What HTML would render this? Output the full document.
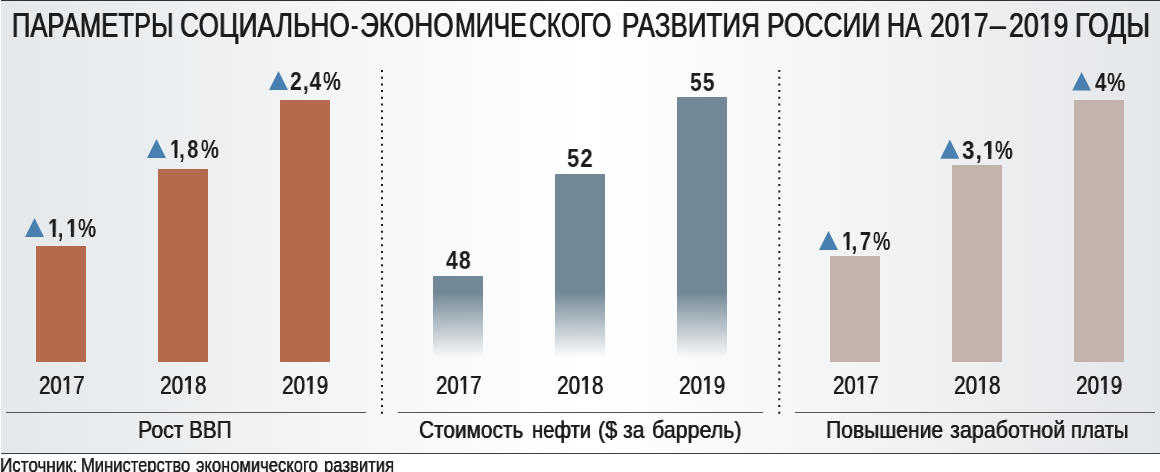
<!DOCTYPE html>
<html lang="ru"><head><meta charset="utf-8">
<style>
html,body{margin:0;padding:0;}
body{width:1160px;height:472px;position:relative;overflow:hidden;background:#fff;font-family:"Liberation Sans",sans-serif;color:#1c1c1c;}
#bg{position:absolute;left:1px;top:0;width:1159px;height:453px;background:linear-gradient(90deg,#e4e8eb 0%,#ffffff 50.5%,#e4e7ea 100%);}
#topline{position:absolute;left:1px;top:0;width:1159px;height:1px;background:#2c3033;}
#botline{position:absolute;left:1px;top:453px;width:1159px;height:1px;background:#3d4043;}

.t{position:absolute;white-space:nowrap;transform-origin:0 0;line-height:1;will-change:transform;font-family:"Liberation Sans",sans-serif;color:#1c1c1c;text-shadow:0.013em 0 0 #1c1c1c,-0.013em 0 0 #1c1c1c;}
.t b{font-weight:bold;letter-spacing:0.05em;text-shadow:none;}
.t i{font-style:normal;display:inline-block;position:relative;width:0.5562em;height:1em;vertical-align:top;}
.t i u{text-decoration:none;display:block;height:0.62em;overflow:hidden;}
.t i::after{content:"I";position:absolute;left:0.1567em;top:0;}
.t b i::after{left:0.1631em;}
.t q{quotes:none;text-shadow:0.004em 0 0 #1c1c1c,-0.004em 0 0 #1c1c1c;}
.t q::before,.t q::after{content:none;}
.t em{font-style:normal;margin:0 0.09em 0 -0.09em;}

.bar{position:absolute;width:50px;}
.o{background:#b5694d;}
.g{background:linear-gradient(to top,rgba(114,136,150,0) 4px,rgba(114,136,150,1) 70px);}
.p{background:#c2b3ad;}
.hl{position:absolute;height:1px;background:#555;top:412px;}
svg{position:absolute;left:0;top:0;}
</style></head><body>
<div id="bg"></div>
<div id="topline"></div>
<div id="botline"></div>
<div class="bar o" style="left:36px;top:246px;height:116px"></div><div class="bar o" style="left:158px;top:169px;height:193px"></div><div class="bar o" style="left:280px;top:100px;height:262px"></div><div class="bar g" style="left:433px;top:276px;height:86px"></div><div class="bar g" style="left:555px;top:174px;height:188px"></div><div class="bar g" style="left:677px;top:97px;height:265px"></div><div class="bar p" style="left:830px;top:256px;height:106px"></div><div class="bar p" style="left:952px;top:165px;height:197px"></div><div class="bar p" style="left:1074px;top:100px;height:262px"></div>
<svg width="1160" height="472" viewBox="0 0 1160 472">
<g fill="#4a80b0"><polygon points="25,237 34.5,218 44,237"/><polygon points="147,158 156.5,139 166,158"/><polygon points="269,90 278.5,71 288,90"/><polygon points="819,250 828.5,231 838,250"/><polygon points="940.3,158.7 949.8499999999999,139.6 959.4,158.7"/><polygon points="1072.2,90.6 1081.6,72 1091,90.6"/></g>
<g stroke="#1a1a1a" stroke-width="2" stroke-dasharray="2 4.7" fill="none">
<line x1="382" y1="70" x2="382" y2="414"/>
<line x1="779.3" y1="70" x2="779.3" y2="414"/>
</g>
</svg>
<div class="hl" style="left:6px;width:360px"></div>
<div class="hl" style="left:398px;width:365px"></div>
<div class="hl" style="left:795px;width:360px"></div>
<div class="t" style="left:11.52px;top:8px;font-size:34.5px;transform:scaleX(0.7418)">ПАРАМЕТРЫ</div>
<div class="t" style="left:179.74px;top:8px;font-size:34.5px;transform:scaleX(0.7648)">СОЦИАЛЬНО</div>
<div class="t" style="left:350.61px;top:8px;font-size:34.5px;transform:scaleX(0.6389)">-</div>
<div class="t" style="left:359.73px;top:8px;font-size:34.5px;transform:scaleX(0.7604)">ЭКОНО</div>
<div class="t" style="left:454.81px;top:8px;font-size:34.5px;transform:scaleX(0.7216)">МИЧЕ</div>
<div class="t" style="left:529.28px;top:8px;font-size:34.5px;transform:scaleX(0.715)">СКОГО</div>
<div class="t" style="left:622.24px;top:8px;font-size:34.5px;transform:scaleX(0.7542)">РАЗВИТИЯ</div>
<div class="t" style="left:767.22px;top:8px;font-size:34.5px;transform:scaleX(0.7639)">РОССИИ</div>
<div class="t" style="left:887.3px;top:8px;font-size:34.5px;transform:scaleX(0.7228)">НА</div>
<div class="t" style="left:930.24px;top:8px;font-size:34.5px;transform:scaleX(0.7635)">20<i><u>1</u></i>7</div>
<div class="t" style="left:990.0px;top:8px;font-size:34.5px;transform:scaleX(0.8125)">–</div>
<div class="t" style="left:1008.73px;top:8px;font-size:34.5px;transform:scaleX(0.7733)">20<i><u>1</u></i>9</div>
<div class="t" style="left:1075.2px;top:8px;font-size:34.5px;transform:scaleX(0.7745)">ГОДЫ</div>
<div class="t" style="left:47.85px;top:216px;font-size:25px;transform:scaleX(0.8233)"><b><i><u>1</u></i><em>,</em><i><u>1</u></i></b></div>
<div class="t" style="left:78.49px;top:216px;font-size:25px;transform:scaleX(0.8095)">%</div>
<div class="t" style="left:170.32px;top:137px;font-size:25px;transform:scaleX(0.7879)"><b><i><u>1</u></i><em>,</em>8</b></div>
<div class="t" style="left:200.7px;top:137px;font-size:25px;transform:scaleX(0.7952)">%</div>
<div class="t" style="left:289.86px;top:69px;font-size:25px;transform:scaleX(0.8417)"><b>2,4</b></div>
<div class="t" style="left:322.6px;top:69px;font-size:25px;transform:scaleX(0.7952)">%</div>
<div class="t" style="left:445.7px;top:248px;font-size:25px;transform:scaleX(0.8464)"><b>48</b></div>
<div class="t" style="left:566.92px;top:146px;font-size:25px;transform:scaleX(0.8778)"><b>52</b></div>
<div class="t" style="left:689.86px;top:70px;font-size:25px;transform:scaleX(0.8407)"><b>55</b></div>
<div class="t" style="left:841.78px;top:229px;font-size:25px;transform:scaleX(0.8091)"><b><i><u>1</u></i><em>,</em>7</b></div>
<div class="t" style="left:872.92px;top:229px;font-size:25px;transform:scaleX(0.781)">%</div>
<div class="t" style="left:962.01px;top:138px;font-size:25px;transform:scaleX(0.8938)"><b>3,<i><u>1</u></i></b></div>
<div class="t" style="left:994.5px;top:138px;font-size:25px;transform:scaleX(0.7952)">%</div>
<div class="t" style="left:1094.8px;top:70px;font-size:25px;transform:scaleX(0.8143)"><b>4</b></div>
<div class="t" style="left:1107.28px;top:70px;font-size:25px;transform:scaleX(0.819)">%</div>
<div class="t" style="left:38.58px;top:373px;font-size:25px;transform:scaleX(0.8185)">20<i><u>1</u></i>7</div>
<div class="t" style="left:159.66px;top:373px;font-size:25px;transform:scaleX(0.8352)">20<i><u>1</u></i>8</div>
<div class="t" style="left:281.77px;top:373px;font-size:25px;transform:scaleX(0.8296)">20<i><u>1</u></i>9</div>
<div class="t" style="left:435.58px;top:373px;font-size:25px;transform:scaleX(0.8185)">20<i><u>1</u></i>7</div>
<div class="t" style="left:556.66px;top:373px;font-size:25px;transform:scaleX(0.8352)">20<i><u>1</u></i>8</div>
<div class="t" style="left:678.77px;top:373px;font-size:25px;transform:scaleX(0.8296)">20<i><u>1</u></i>9</div>
<div class="t" style="left:832.58px;top:373px;font-size:25px;transform:scaleX(0.8185)">20<i><u>1</u></i>7</div>
<div class="t" style="left:953.66px;top:373px;font-size:25px;transform:scaleX(0.8352)">20<i><u>1</u></i>8</div>
<div class="t" style="left:1075.77px;top:373px;font-size:25px;transform:scaleX(0.8296)">20<i><u>1</u></i>9</div>
<div class="t" style="left:138.02px;top:418px;font-size:24px;transform:scaleX(0.8878)">Рост</div>
<div class="t" style="left:189.17px;top:418px;font-size:24px;transform:scaleX(0.863)">ВВП</div>
<div class="t" style="left:419.33px;top:418px;font-size:24px;transform:scaleX(0.8681)">Стоимость</div>
<div class="t" style="left:531.96px;top:418px;font-size:24px;transform:scaleX(0.8412)">нефти</div>
<div class="t" style="left:597.7px;top:418px;font-size:24px;transform:scaleX(0.9)">($</div>
<div class="t" style="left:623.22px;top:418px;font-size:24px;transform:scaleX(0.8792)">за</div>
<div class="t" style="left:652.11px;top:418px;font-size:24px;transform:scaleX(0.8929)">баррель)</div>
<div class="t" style="left:825.54px;top:418px;font-size:24px;transform:scaleX(0.8792)">Повышение</div>
<div class="t" style="left:949.5px;top:418px;font-size:24px;transform:scaleX(0.896)">заработной</div>
<div class="t" style="left:1070.66px;top:418px;font-size:24px;transform:scaleX(0.8439)">платы</div>
<div class="t" style="left:0.13px;top:456px;font-size:19.5px;transform:scaleX(0.8721)"><q>Источник:</q></div>
<div class="t" style="left:81.05px;top:456px;font-size:19.5px;transform:scaleX(0.8488)"><q>Министерство</q></div>
<div class="t" style="left:196.1px;top:456px;font-size:19.5px;transform:scaleX(0.8497)"><q>экономического</q></div>
<div class="t" style="left:323.95px;top:456px;font-size:19.5px;transform:scaleX(0.8538)"><q>развития</q></div>
</body></html>
